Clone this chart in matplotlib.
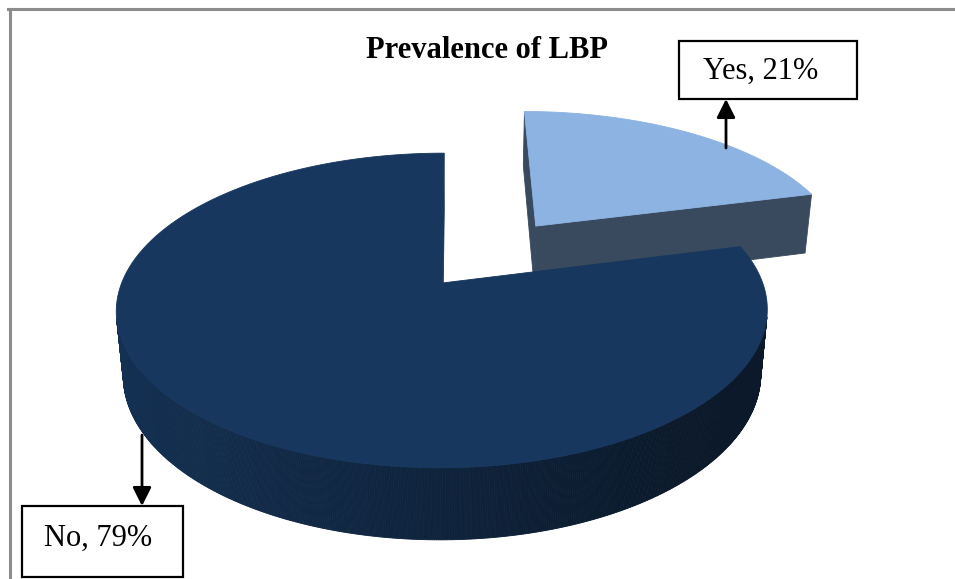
import numpy as np
import matplotlib
matplotlib.use("Agg")
import matplotlib.pyplot as plt
from matplotlib.patches import Polygon, Rectangle
from matplotlib.lines import Line2D
from matplotlib.colors import to_rgb

# ---- data -------------------------------------------------------------
categories = ["Yes", "No"]
shares = [21, 79]
label_texts = ["Yes, 21%", "No, 79%"]
title = "Prevalence of LBP"

# ---- styles -----------------------------------------------------------
top_colors = ["#8DB3E2", "#17375E"]
side_colors = ["#3A4A5E", "#17375E"]
explode = [0.505, 0.0]

W, H = 955, 579
fig = plt.figure(figsize=(W / 100, H / 100), dpi=100)
ax = fig.add_axes([0, 0, 1, 1])
ax.set_xlim(0, W)
ax.set_ylim(H, 0)
ax.axis("off")

# ---- perspective camera for the 3-D pie -------------------------------
CX, CY = 455.0, 283.0      # screen position of the vanishing axis
FX, FY = 1625.0, 1658.0    # focal lengths (px)
CAM_X = 0.04               # small sideways shift of the camera
D = 5.07                   # camera distance (pie radius = 1)
ELEV = np.radians(27.8)
THICK = 0.224              # pie thickness
ce, se = np.cos(ELEV), np.sin(ELEV)
CAM = np.array([CAM_X, -D * ce, D * se])


def project(X, Y, Z):
    X, Y, Z = np.asarray(X, float), np.asarray(Y, float), np.asarray(Z, float)
    d = D + Y * ce - Z * se
    return CX + FX * (X - CAM_X) / d, CY - FY * (Y * se + Z * ce) / d


def visible(point, normal):
    return np.dot(CAM - point, normal) > 1e-6


def shade(color, k):
    r, g, b = to_rgb(color)
    return (r * k, g * k, b * k)


def poly(xs, ys, color, z):
    ax.add_patch(Polygon(np.column_stack([xs, ys]), closed=True,
                         facecolor=color, edgecolor=color, lw=0.6, zorder=z))


total = float(sum(shares))
start = 90.0
z = 1
for i, (cat, val) in enumerate(zip(categories, shares)):
    sweep = 360.0 * val / total
    t0, t1 = start, start - sweep          # clockwise
    start = t1
    mid = np.radians((t0 + t1) / 2)
    ox, oy = explode[i] * np.cos(mid), explode[i] * np.sin(mid)
    th = np.radians(np.linspace(t0, t1, int(abs(sweep) * 3) + 2))
    rx, ry = ox + np.cos(th), oy + np.sin(th)

    # radial cut faces
    for t, sgn in ((np.radians(t0), 1), (np.radians(t1), -1)):
        n = np.array([np.cos(t + sgn * np.pi / 2), np.sin(t + sgn * np.pi / 2), 0.0])
        p = np.array([ox + 0.5 * np.cos(t), oy + 0.5 * np.sin(t), -THICK / 2])
        if visible(p, n):
            X = [ox, ox + np.cos(t), ox + np.cos(t), ox]
            Y = [oy, oy + np.sin(t), oy + np.sin(t), oy]
            Zs = [0, 0, -THICK, -THICK]
            xs, ys = project(X, Y, Zs)
            poly(xs, ys, side_colors[i], z)
    z += 1

    # outer curved wall, shaded darker towards the right
    for j in range(len(th) - 1):
        tm = 0.5 * (th[j] + th[j + 1])
        n = np.array([np.cos(tm), np.sin(tm), 0.0])
        p = np.array([ox + np.cos(tm), oy + np.sin(tm), -THICK / 2])
        if not visible(p, n):
            continue
        X = [rx[j], rx[j + 1], rx[j + 1], rx[j]]
        Y = [ry[j], ry[j + 1], ry[j + 1], ry[j]]
        Zs = [0, 0, -THICK, -THICK]
        xs, ys = project(X, Y, Zs)
        frac = np.clip((xs.mean() - 110) / 560, 0, 1)
        k = 0.88 - 0.42 * frac
        poly(xs, ys, shade(top_colors[i], k), z)
    z += 1

    # top face
    xs, ys = project(np.r_[ox, rx], np.r_[oy, ry], np.zeros(len(rx) + 1))
    poly(xs, ys, top_colors[i], z)
    z += 1

# ---- frame --------------------------------------------------------------
ax.add_line(Line2D([8, W], [9, 9], color="#8c8c8c", lw=2.2, zorder=20))
ax.add_line(Line2D([9.5, 9.5], [9, H], color="#8c8c8c", lw=2.2, zorder=20))

# ---- title --------------------------------------------------------------
ax.text(487, 50, title, ha="center", va="center", fontsize=22,
        fontweight="bold", family="Liberation Serif", zorder=30)

# ---- data labels with callout arrows -----------------------------------
boxes = [(679, 41, 178, 58), (22, 506, 161, 71)]
text_pos = [(761, 71), (98, 538)]
arrows = [((726, 148), (726, 99)), ((142, 435), (142, 506))]
for txt, (bx, by, bw, bh), (tx, ty), (tail, head) in zip(label_texts, boxes,
                                                          text_pos, arrows):
    ax.add_patch(Rectangle((bx, by), bw, bh, facecolor="white",
                           edgecolor="black", lw=1.6, zorder=25))
    ax.text(tx, ty, txt, ha="center", va="center",
            fontsize=22, family="Liberation Serif", zorder=26)
    ax.annotate("", xy=head, xytext=tail,
                arrowprops=dict(arrowstyle="-|>", color="black", lw=2,
                                mutation_scale=28, shrinkA=0, shrinkB=0),
                zorder=27)

fig.savefig("out.png", dpi=100)
